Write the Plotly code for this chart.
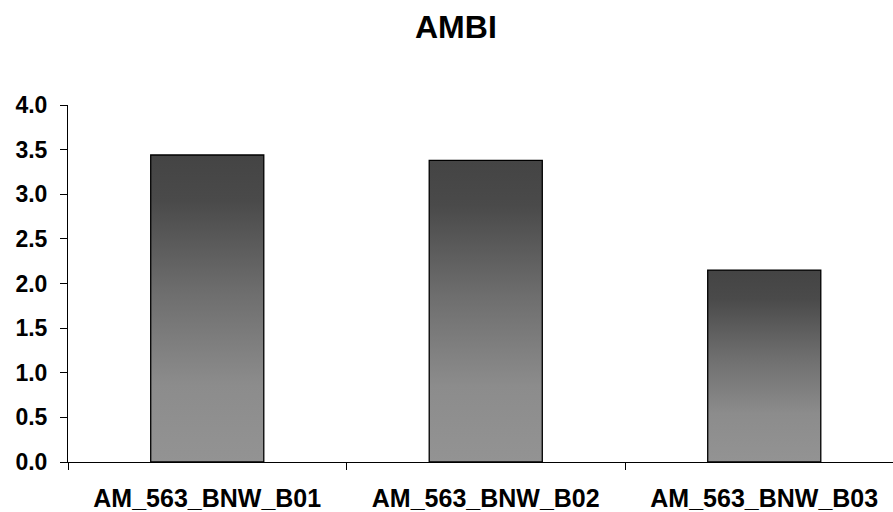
import plotly.graph_objects as go

title_text = "AMBI"
categories = ["AM_563_BNW_B01", "AM_563_BNW_B02", "AM_563_BNW_B03"]
values = [3.44, 3.38, 2.15]
y_tick_values = [0, 0.5, 1.0, 1.5, 2.0, 2.5, 3.0, 3.5, 4.0]

BAR_WIDTH = 0.406
FONT = "Liberation Sans, Arial, sans-serif"
gradient = [[0.0, "#939393"], [0.25, "#8c8c8c"], [0.55, "#6e6e6e"], [0.85, "#4a4a4a"], [1.0, "#444444"]]

fig = go.Figure()
for i, v in enumerate(values):
    x0, x1 = i - BAR_WIDTH / 2, i + BAR_WIDTH / 2
    fig.add_trace(go.Scatter(
        x=[x0, x0, x1, x1, x0],
        y=[0, v, v, 0, 0],
        mode="lines",
        fill="toself",
        fillgradient=dict(type="vertical", colorscale=gradient),
        line=dict(color="#000000", width=1.3),
        hoverinfo="text",
        text=f"{categories[i]}: {v}",
        showlegend=False,
    ))

n = len(categories)
fig.add_annotation(
    text=f"<b>{title_text}</b>", xref="paper", yref="paper",
    x=(456 - 68) / 825, y=(462 - 27) / 357, xanchor="center", yanchor="middle",
    showarrow=False, font=dict(size=32, family=FONT, color="black"),
)
fig.update_layout(
    width=893, height=512,
    margin=dict(l=68, r=0, t=105, b=50, autoexpand=False),
    paper_bgcolor="white", plot_bgcolor="white",
    font=dict(family=FONT, color="black"),
    xaxis=dict(
        range=[-0.5, -0.5 + 825 / 278.5], automargin=False,
        tickmode="array", tickvals=list(range(n)), ticktext=[f"<b>{c}</b>" for c in categories],
        ticks="", showgrid=False, zeroline=False,
        showline=True, linecolor="#000000", linewidth=1,
        tickfont=dict(size=25, family=FONT, color="black"),
        ticklabelstandoff=14,
        minor=dict(tickmode="array", tickvals=[k - 0.5 for k in range(n + 1)],
                   ticks="outside", ticklen=7, tickcolor="#000000", tickwidth=1, showgrid=False),
    ),
    yaxis=dict(
        range=[0, 4.0], automargin=False,
        tickmode="array", tickvals=y_tick_values,
        ticktext=[f"<b>{t:.1f}</b>" for t in y_tick_values],
        ticks="outside", ticklen=7, tickcolor="#000000", tickwidth=1,
        showgrid=False, zeroline=False,
        showline=True, linecolor="#000000", linewidth=1,
        tickfont=dict(size=23, family=FONT, color="black"),
        ticklabelstandoff=8,
    ),
)

fig.write_html("out.html", config={"displayModeBar": False},
               post_script="document.body.style.margin='0px';document.body.style.overflow='hidden';")
